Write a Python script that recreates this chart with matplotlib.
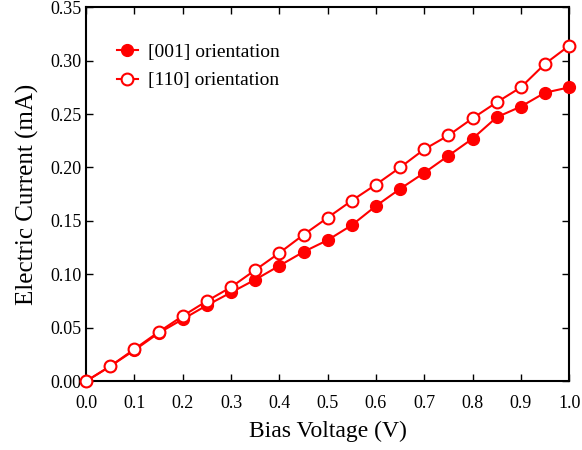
import matplotlib
matplotlib.use("Agg")
import matplotlib.pyplot as plt

# Data
voltage = [0.0, 0.05, 0.1, 0.15, 0.2, 0.25, 0.3, 0.35, 0.4, 0.45, 0.5,
           0.55, 0.6, 0.65, 0.7, 0.75, 0.8, 0.85, 0.9, 0.95, 1.0]
current_001 = [0.0, 0.014, 0.029, 0.045, 0.058, 0.071, 0.083, 0.095, 0.108, 0.121, 0.132,
               0.146, 0.164, 0.180, 0.195, 0.211, 0.227, 0.247, 0.257, 0.270, 0.275]
current_110 = [0.0, 0.014, 0.030, 0.046, 0.061, 0.075, 0.088, 0.104, 0.120, 0.137, 0.153,
               0.169, 0.184, 0.200, 0.217, 0.230, 0.246, 0.261, 0.275, 0.297, 0.314]
labels = ["[001] orientation", "[110] orientation"]
xticks = [0.0, 0.1, 0.2, 0.3, 0.4, 0.5, 0.6, 0.7, 0.8, 0.9, 1.0]
yticks = [0.0, 0.05, 0.10, 0.15, 0.20, 0.25, 0.30, 0.35]

plt.rcParams["font.family"] = ["Liberation Serif", "DejaVu Serif"]

fig = plt.figure(figsize=(5.82, 4.5), dpi=100)
ax = fig.add_axes([0.148, 0.153, 0.83, 0.831])

ax.plot(voltage, current_001, "-o", color="red", lw=1.5, ms=8.5,
        label=labels[0], clip_on=False, zorder=3)
ax.plot(voltage, current_110, "-o", color="red", lw=1.5, ms=8.5, mfc="white",
        mew=1.5, label=labels[1], clip_on=False, zorder=3)

ax.set_xlim(0, 1.0)
ax.set_ylim(0, 0.35)
ax.set_xticks(xticks)
ax.set_yticks(yticks)
ax.set_xticklabels([f"{v:.1f}" for v in xticks])
ax.set_yticklabels([f"{v:.2f}" for v in yticks])
ax.tick_params(direction="in", top=True, right=True, labelsize=13, length=5, width=1)
ax.tick_params(axis="x", pad=10)
for s in ax.spines.values():
    s.set_linewidth(1.5)

ax.set_xlabel("Bias Voltage (V)", fontsize=17, labelpad=6)
ax.set_ylabel("Electric Current (mA)", fontsize=18, labelpad=8)

ax.legend(loc="upper left", frameon=False, fontsize=14, handlelength=1.1,
          handletextpad=0.5, labelspacing=0.55, bbox_to_anchor=(0.027, 0.95))

fig.savefig("out.png", dpi=100)
